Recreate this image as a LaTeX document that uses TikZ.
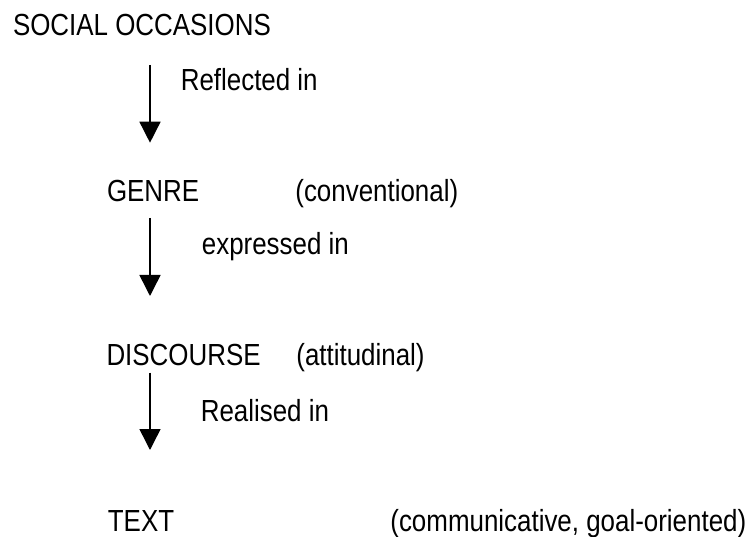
\documentclass[tikz,border=0pt]{standalone}
\usepackage{fontspec}
\setmainfont{Liberation Sans}[FakeStretch=0.85]
\usetikzlibrary{arrows.meta}
\begin{document}
\begin{tikzpicture}[x=1pt,y=-1pt,
  lbl/.style={anchor=base west,inner sep=0pt,font=\fontsize{30.5}{34}\selectfont},
  flow/.style={line width=1.5pt,-{Triangle[width=21pt,length=21pt]}}]
\useasboundingbox[fill=white] (0,0) rectangle (755,537);
% levels
\node[lbl] (occ) at (12.8,36) {SOCIAL OCCASIONS};
\node[lbl] (genre) at (106.8,201.5) {GENRE};
\node[lbl] (genreq) at (295.2,201.5) {(conventional)};
\node[lbl] (disc) at (106.3,365) {DISCOURSE};
\node[lbl] (discq) at (296.2,365) {(attitudinal)};
\node[lbl] (text) at (107.7,531.5) {TEXT};
\node[lbl] (textq) at (390.2,531.5) {(communicative, goal-oriented)};
% relation labels
\node[lbl] (r1) at (180.6,91) {Reflected in};
\node[lbl] (r2) at (201.7,255) {expressed in};
\node[lbl] (r3) at (200.6,421.7) {Realised in};
% arrow ends
\coordinate (a1s) at (150,65);  \coordinate (a1e) at (150,142.7);
\coordinate (a2s) at (150,218); \coordinate (a2e) at (150,296);
\coordinate (a3s) at (150,372.7); \coordinate (a3e) at (150,450);
\draw[flow] (a1s) -- (a1e);
\draw[flow] (a2s) -- (a2e);
\draw[flow] (a3s) -- (a3e);
\end{tikzpicture}
\end{document}
